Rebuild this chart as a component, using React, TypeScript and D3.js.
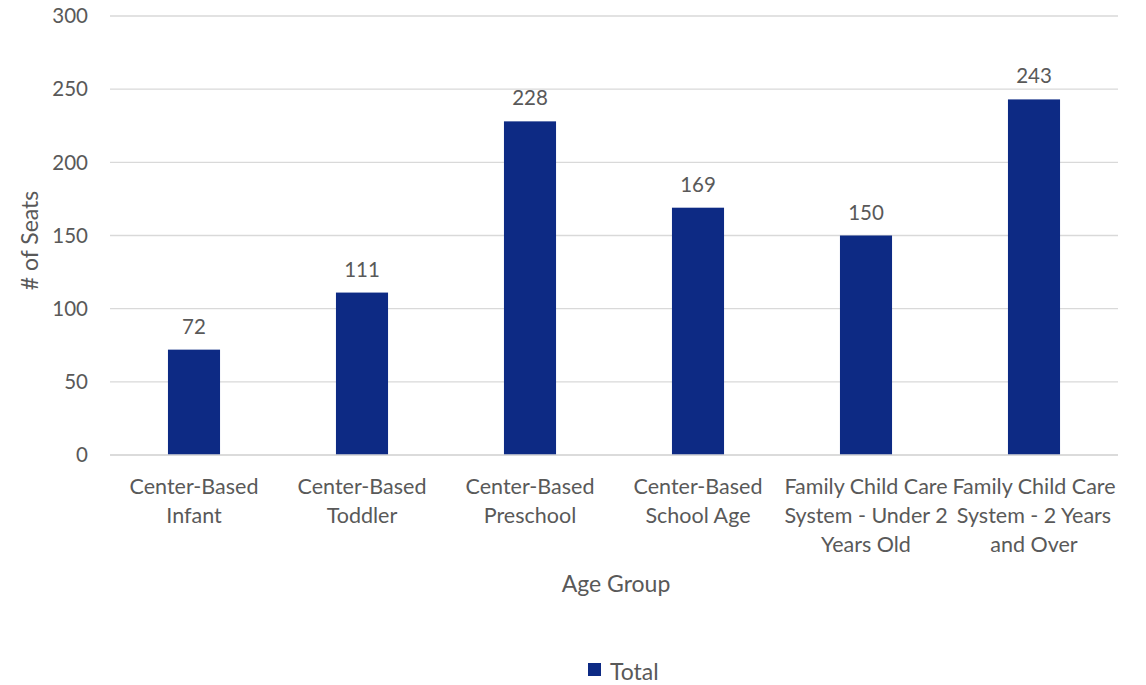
import React from "react";
import * as d3 from "d3";

const categories: string[] = [
  "Center-Based Infant",
  "Center-Based Toddler",
  "Center-Based Preschool",
  "Center-Based School Age",
  "Family Child Care System - Under 2 Years Old",
  "Family Child Care System - 2 Years and Over",
];

const categoryLines: string[][] = [
  ["Center-Based", "Infant"],
  ["Center-Based", "Toddler"],
  ["Center-Based", "Preschool"],
  ["Center-Based", "School Age"],
  ["Family Child Care", "System - Under 2", "Years Old"],
  ["Family Child Care", "System - 2 Years", "and Over"],
];

const totals: number[] = [72, 111, 228, 169, 150, 243];

const yTicks: number[] = [0, 50, 100, 150, 200, 250, 300];

const W = 1146;
const H = 685;
const margin = { left: 110, right: 28, top: 16, bottom: 230 };
const FONT = "Lato, 'Open Sans', sans-serif";
const TEXT = "#595959";
const BAR = "#0d2a84";

export default function App() {
  const x = d3
    .scaleBand<string>()
    .domain(categories)
    .range([margin.left, W - margin.right])
    .paddingInner(0.69)
    .paddingOuter(0.345);
  const y = d3.scaleLinear().domain([0, 300]).range([H - margin.bottom + 0, margin.top]);
  const band = (W - margin.left - margin.right) / categories.length;

  return (
    <svg
      width={W}
      height={H}
      style={{ position: "absolute", left: 0, top: 0, background: "#fff" }}
      fontFamily={FONT}
    >
      {yTicks.map((t) => (
        <g key={t}>
          <line
            x1={margin.left}
            x2={W - margin.right}
            y1={y(t)}
            y2={y(t)}
            stroke="#d9d9d9"
            strokeWidth={1.3}
          />
          <text x={88} y={y(t)} dy="0.35em" textAnchor="end" fontSize={20.5} fill={TEXT}>
            {t}
          </text>
        </g>
      ))}
      {categories.map((c, i) => (
        <g key={c}>
          <rect
            x={x(c)}
            y={y(totals[i])}
            width={x.bandwidth()}
            height={y(0) - y(totals[i])}
            fill={BAR}
          />
          <text
            x={(x(c) as number) + x.bandwidth() / 2}
            y={y(totals[i]) - 16}
            textAnchor="middle"
            fontSize={20.5}
            fill={TEXT}
          >
            {totals[i]}
          </text>
          {categoryLines[i].map((ln, j) => (
            <text
              key={j}
              x={margin.left + band * (i + 0.5)}
              y={494 + j * 29}
              textAnchor="middle"
              fontSize={21.5}
              fill={TEXT}
            >
              {ln}
            </text>
          ))}
        </g>
      ))}
      <line
        x1={margin.left}
        x2={W - margin.right}
        y1={y(0)}
        y2={y(0)}
        stroke="#d9d9d9"
        strokeWidth={1.3}
      />
      <text x={616} y={592} textAnchor="middle" fontSize={23} fill={TEXT}>
        Age Group
      </text>
      <text
        transform={`translate(38, ${(y(0) + y(300)) / 2 + 5}) rotate(-90)`}
        textAnchor="middle"
        fontSize={23}
        fill={TEXT}
      >
        # of Seats
      </text>
      <rect x={588} y={663} width={13} height={13} fill={BAR} />
      <text x={610} y={680} fontSize={23} fill={TEXT}>
        Total
      </text>
    </svg>
  );
}
